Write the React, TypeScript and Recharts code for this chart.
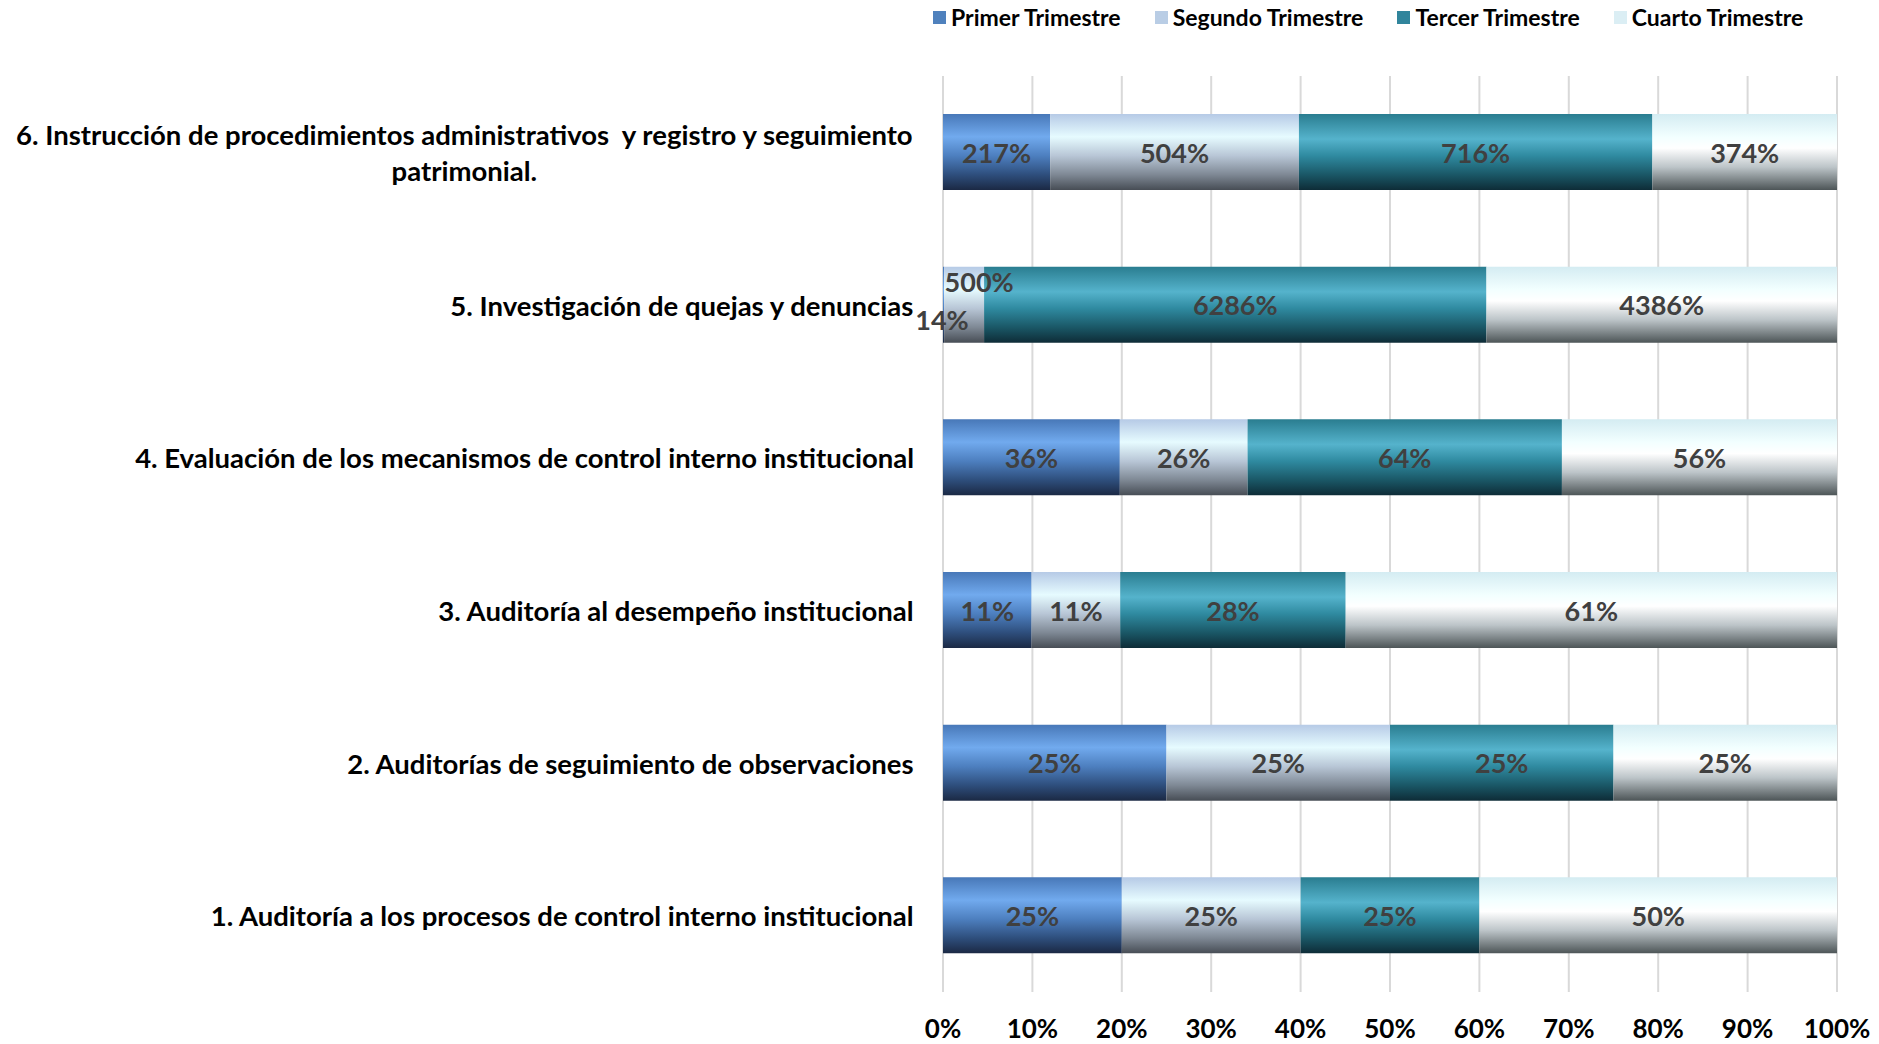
import React from "react";
import {
  BarChart,
  Bar,
  XAxis,
  YAxis,
  CartesianGrid,
  LabelList,
  Legend,
} from "recharts";

const categories = [
  "1. Auditoría a los procesos de control interno institucional",
  "2. Auditorías de seguimiento de observaciones",
  "3. Auditoría al desempeño institucional",
  "4. Evaluación de los mecanismos de control interno institucional",
  "5. Investigación de quejas y denuncias",
  "6. Instrucción de procedimientos administrativos  y registro y seguimiento patrimonial.",
];

const primer = [25, 25, 11, 36, 14, 217];
const segundo = [25, 25, 11, 26, 500, 504];
const tercer = [25, 25, 28, 64, 6286, 716];
const cuarto = [50, 25, 61, 56, 4386, 374];

const seriesNames = ["Primer Trimestre", "Segundo Trimestre", "Tercer Trimestre", "Cuarto Trimestre"];
const seriesKeys = ["primer", "segundo", "tercer", "cuarto"];
const legendColors = ["#4f81bd", "#b9cde5", "#31859c", "#dbeef4"];

const xTicks = [0, 0.1, 0.2, 0.3, 0.4, 0.5, 0.6, 0.7, 0.8, 0.9, 1];

const data = categories.map((name, i) => ({
  name,
  primer: primer[i],
  segundo: segundo[i],
  tercer: tercer[i],
  cuarto: cuarto[i],
}));

const FONT = "Lato, 'Open Sans', sans-serif";
const CAT_SIZE = 27.5;

// gradient stops per series: [offset, color]
const gradients: [string, string][][] = [
  [["0", "#4878b8"], ["0.3", "#71aaee"], ["0.55", "#4d7fbf"], ["0.8", "#2e4e7c"], ["1", "#1b2944"]],
  [["0", "#b6cae6"], ["0.3", "#e6fbff"], ["0.55", "#b8c6d6"], ["0.8", "#7e8894"], ["1", "#474d55"]],
  [["0", "#2a7d90"], ["0.33", "#55b3cc"], ["0.55", "#2f8aa0"], ["0.8", "#1a5766"], ["1", "#0e2c37"]],
  [["0", "#d4ecf2"], ["0.3", "#f2ffff"], ["0.45", "#ffffff"], ["0.7", "#bcc4c8"], ["1", "#4d5557"]],
];

let measureCtx: CanvasRenderingContext2D | null = null;
const measure = (text: string, font: string) => {
  if (!measureCtx) measureCtx = document.createElement("canvas").getContext("2d");
  if (!measureCtx) return text.length * 12;
  measureCtx.font = font;
  return measureCtx.measureText(text).width;
};

const CategoryTick = (props: any) => {
  const { x, y, payload } = props;
  const font = `bold ${CAT_SIZE}px ${FONT}`;
  const maxW = 930;
  const words = String(payload.value).split(" ");
  const lines: string[] = [];
  let cur = "";
  words.forEach((w) => {
    const next = cur ? cur + " " + w : w;
    if (cur && measure(next, font) > maxW) {
      lines.push(cur);
      cur = w;
    } else {
      cur = next;
    }
  });
  if (cur) lines.push(cur);
  const blockW = Math.max(...lines.map((l) => measure(l, font)));
  const cx = x - blockW / 2;
  const lh = 36;
  const top = y - ((lines.length - 1) * lh) / 2;
  return (
    <g>
      {lines.map((l, i) => (
        <text
          key={i}
          x={cx}
          y={top + i * lh}
          textAnchor="middle"
          dominantBaseline="central"
          fontFamily={FONT}
          fontWeight="bold"
          fontSize={CAT_SIZE}
          fill="#000"
          style={{ whiteSpace: "pre" }}
        >
          {l}
        </text>
      ))}
    </g>
  );
};

const makeLabel = (seriesIdx: number) => (props: any) => {
  const { x, y, width, height, value } = props;
  let cx = x + width / 2;
  let cy = y + height / 2;
  // narrow segments: labels pushed aside like the original
  if (width < 45) {
    if (seriesIdx === 0) {
      cx = x - 1;
      cy += 15;
    } else if (seriesIdx === 1) {
      cx = x + 35;
      cy -= 23;
    }
  }
  return (
    <text
      x={cx}
      y={cy}
      textAnchor="middle"
      dominantBaseline="central"
      fontFamily={FONT}
      fontWeight="bold"
      fontSize={27}
      fill="#404040"
    >
      {`${value}%`}
    </text>
  );
};

const LegendContent = () => (
  <div style={{ display: "flex", alignItems: "center", fontFamily: FONT, fontWeight: "bold", fontSize: 23, lineHeight: "28px" }}>
    {seriesNames.map((n, i) => (
      <div key={n} style={{ display: "flex", alignItems: "center", marginRight: 34 }}>
        <span
          style={{ display: "inline-block", width: 13, height: 13, background: legendColors[i], marginRight: 5 }}
        />
        <span style={{ color: "#000" }}>{n}</span>
      </div>
    ))}
  </div>
);

const App: React.FC = () => {
  return (
    <div style={{ position: "absolute", left: 0, top: 0, background: "#fff" }}>
      <BarChart
        width={1879}
        height={1044}
        data={data}
        layout="vertical"
        stackOffset="expand"
        barSize={76}
        margin={{ top: 76, right: 42, bottom: 0, left: 0 }}
      >
        <defs>
          {gradients.map((stops, i) => (
            <linearGradient key={i} id={`grad${i}`} x1="0" y1="0" x2="0" y2="1">
              {stops.map(([o, c]) => (
                <stop key={o} offset={o} stopColor={c} />
              ))}
            </linearGradient>
          ))}
        </defs>
        <CartesianGrid horizontal={false} stroke="#d9d9d9" strokeWidth={2} />
        <XAxis
          type="number"
          domain={[0, 1]}
          ticks={xTicks}
          height={52}
          tickFormatter={(v: number) => `${Math.round(v * 100)}%`}
          axisLine={false}
          tickLine={false}
          tickMargin={22}
          interval={0}
          tick={{ fontFamily: FONT, fontWeight: "bold", fontSize: 26, fill: "#000" }}
        />
        <YAxis
          type="category"
          dataKey="name"
          reversed
          width={943}
          axisLine={false}
          tickLine={false}
          tickMargin={23}
          interval={0}
          tick={<CategoryTick />}
        />
        <Legend
          verticalAlign="middle"
          align="center"
          layout="horizontal"
          content={<LegendContent />}
          wrapperStyle={{ position: "absolute", top: 3, left: 933, width: "auto" }}
        />
        {seriesKeys.map((k, i) => (
          <Bar key={k} dataKey={k} name={seriesNames[i]} stackId="a" fill={`url(#grad${i})`} isAnimationActive={false}>
            <LabelList dataKey={k} content={makeLabel(i)} />
          </Bar>
        ))}
      </BarChart>
    </div>
  );
};

export default App;
